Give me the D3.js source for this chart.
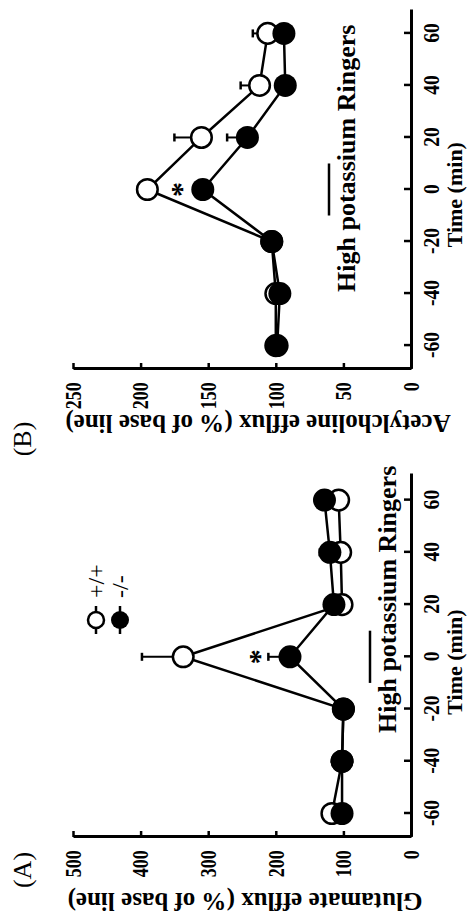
<!DOCTYPE html>
<html>
<head>
<meta charset="utf-8">
<script src="https://cdn.jsdelivr.net/npm/d3@7"></script>
<style>
body{margin:0;background:#fff;}
text{font-family:"Liberation Serif","Times New Roman",serif;fill:#000;}
</style>
</head>
<body>
<div id="fig"></div>
<script>
// sampling times (min)
var times = [-60,-40,-20,0,20,40,60];
var timeTicks = [-60,-40,-20,0,20,40,60];

// (A) glutamate efflux, % of base line
var gluWT = [117,102,100,337,102,104,107];
var gluWTerr = [0,0,0,61,0,0,0];
var gluKO = [102,102,100,179,114,120,128];
var gluKOerr = [0,0,0,32,0,15,12];
var gluTicks = [0,100,200,300,400,500];
var gluStar = [0,230];

// (B) acetylcholine efflux, % of base line
var achWT = [100,100,103,195,155,112,106];
var achWTerr = [0,0,0,7,20,14,11];
var achKO = [99,97,103,154,121,93,94];
var achKOerr = [0,0,0,0,15,0,0];
var achTicks = [0,50,100,150,200,250];
var achStar = [0,172];

var kBar = [-10,10];
var legendLabels = ["+/+","-/-"];

// figure is drawn upright (914 x 468) and turned a quarter turn
var svg = d3.select("#fig").append("svg").attr("width",468).attr("height",914);
var root = svg.append("g").attr("transform","translate(0,914) rotate(-90)");

var R = 11.5;
var fmt = function(d){ return String(d); };

function panel(p){
  var g = root.append("g");
  var x = d3.scaleLinear().domain(p.tdom).range(p.xr);
  var y = d3.scaleLinear().domain([0,p.ymax]).range([411,73]);

  var xa = g.append("g").attr("transform","translate(0,411)")
    .call(d3.axisBottom(x).tickValues(timeTicks).tickFormat(fmt).tickSizeInner(-7).tickSizeOuter(0).tickPadding(12));
  var ya = g.append("g").attr("transform","translate("+p.xr[0]+",0)")
    .call(d3.axisLeft(y).tickValues(p.ticks).tickFormat(fmt).tickSizeInner(-6).tickSizeOuter(0).tickPadding(17));
  [xa,ya].forEach(function(a){
    a.select(".domain").attr("stroke-width",3);
    a.selectAll(".tick line").attr("stroke-width",2.5);
  });
  xa.selectAll("text").attr("font-size",23).attr("font-weight","bold").attr("font-family",null)
    .attr("transform","scale(0.85,1)");
  ya.selectAll("text").attr("font-size",23).attr("font-weight","bold").attr("font-family",null)
    .attr("transform","scale(0.78,1)");

  g.append("text").attr("x",x(-2)).attr("y",462).attr("text-anchor","middle")
    .attr("font-size",22).attr("font-weight","bold").text("Time (min)");
  g.append("text").attr("transform","translate("+p.titleX+","+p.titleY+") rotate(-90)")
    .attr("text-anchor","middle").attr("font-size",25).attr("font-weight","bold").text(p.title);
  g.append("text").attr("x",p.labX).attr("y",31).attr("text-anchor","middle")
    .attr("font-size",26).text(p.lab);

  // high potassium period
  g.append("line").attr("x1",x(kBar[0])).attr("x2",x(kBar[1])).attr("y1",p.kY).attr("y2",p.kY)
    .attr("stroke","#000").attr("stroke-width",2.5);
  g.append("text").attr("x",x(p.kMid)).attr("y",p.kY+26).attr("text-anchor","middle")
    .attr("font-size",26).attr("font-weight","bold").text("High potassium Ringers");

  var line = d3.line().x(function(d,i){return x(times[i]);}).y(function(d){return y(d);});
  [p.wt,p.ko].forEach(function(s){
    g.append("path").attr("d",line(s)).attr("fill","none").attr("stroke","#000").attr("stroke-width",2.5);
  });

  [[p.wt,p.wtErr],[p.ko,p.koErr]].forEach(function(s){
    s[0].forEach(function(v,i){
      var e = s[1][i];
      if(!e) return;
      g.append("line").attr("x1",x(times[i])).attr("x2",x(times[i])).attr("y1",y(v)).attr("y2",y(v+e))
        .attr("stroke","#000").attr("stroke-width",2);
      g.append("line").attr("x1",x(times[i])-4).attr("x2",x(times[i])+4).attr("y1",y(v+e)).attr("y2",y(v+e))
        .attr("stroke","#000").attr("stroke-width",2.5);
    });
  });

  g.selectAll("circle.wt").data(p.wt).enter().append("circle").attr("class","wt")
    .attr("cx",function(d,i){return x(times[i]);}).attr("cy",function(d){return y(d);}).attr("r",R-1.2)
    .attr("fill","#fff").attr("stroke","#000").attr("stroke-width",2.5);
  g.selectAll("circle.ko").data(p.ko).enter().append("circle").attr("class","ko")
    .attr("cx",function(d,i){return x(times[i]);}).attr("cy",function(d){return y(d);}).attr("r",R)
    .attr("fill","#000");

  g.append("text").attr("x",x(p.star[0])).attr("y",y(p.star[1])+13).attr("text-anchor","middle")
    .attr("font-size",30).attr("font-weight","bold").text("*");
  return g;
}

var gA = panel({tdom:[-69,70], xr:[77,440], ymax:500, ticks:gluTicks, wt:gluWT, wtErr:gluWTerr, ko:gluKO, koErr:gluKOerr,
  star:gluStar, title:"Glutamate efflux (% of base line)", titleX:21, titleY:245, lab:"(A)", labX:44, kY:370, kMid:22});
var gB = panel({tdom:[-69,69], xr:[545,904], ymax:250, ticks:achTicks, wt:achWT, wtErr:achWTerr, ko:achKO, koErr:achKOerr,
  star:achStar, title:"Acetylcholine efflux (% of base line)", titleX:499, titleY:258, lab:"(B)", labX:475, kY:329, kMid:12});

// legend (panel A)
var leg = gA.append("g").attr("transform","translate(294,0)");
legendLabels.forEach(function(t,i){
  var yy = 96 + i*24;
  leg.append("line").attr("x1",-14).attr("x2",14).attr("y1",yy).attr("y2",yy).attr("stroke","#000").attr("stroke-width",2.5);
  leg.append("circle").attr("cx",0).attr("cy",yy).attr("r",i?9:8)
    .attr("fill",i?"#000":"#fff").attr("stroke","#000").attr("stroke-width",i?0:2.5);
  leg.append("text").attr("x",22).attr("y",yy+8).attr("font-size",24).text(t);
});
</script>
</body>
</html>
